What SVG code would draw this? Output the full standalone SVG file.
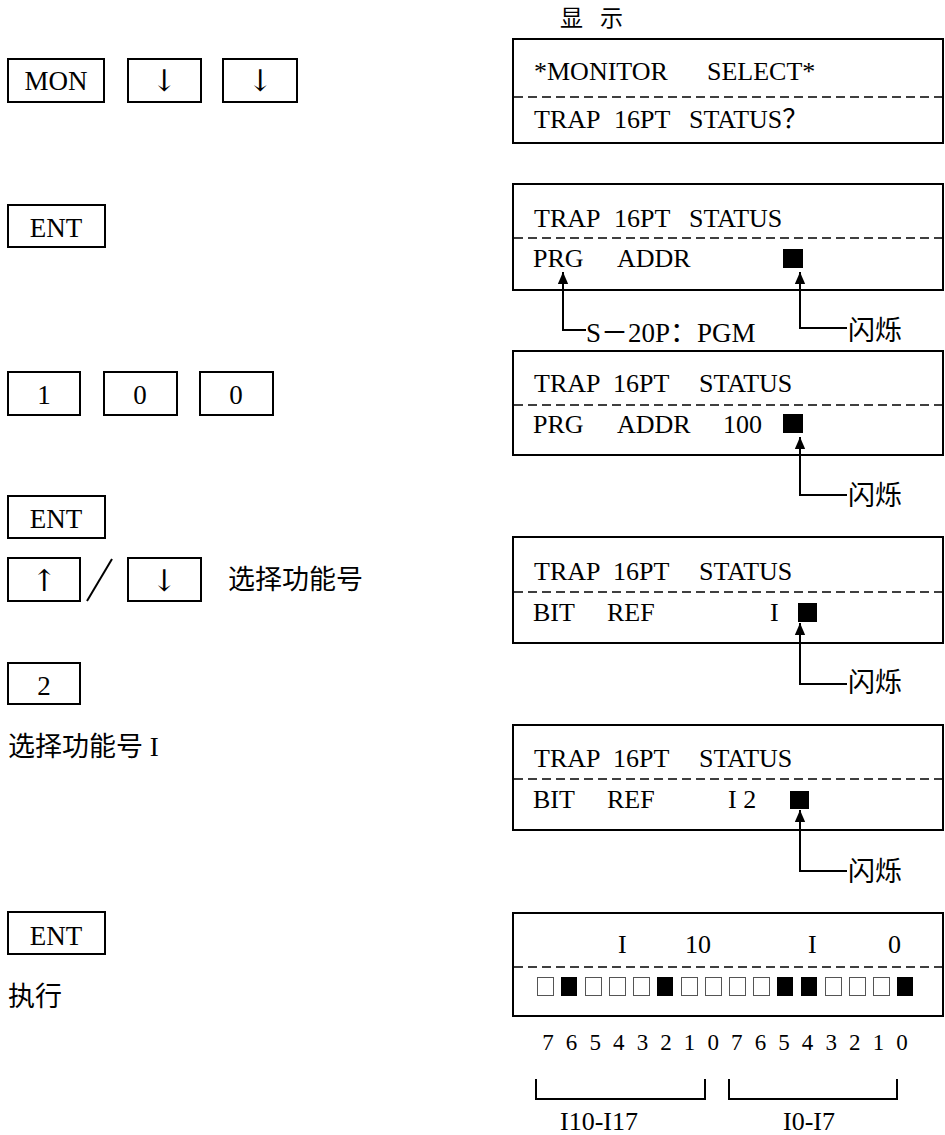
<svg xmlns="http://www.w3.org/2000/svg" width="945" height="1135" viewBox="0 0 945 1135">
<style>
.box{fill:none;stroke:#000;stroke-width:2}
.dash{stroke:#000;stroke-width:1.5;stroke-dasharray:9 5;fill:none}
.t{font-family:"Liberation Serif","Noto Sans CJK SC",serif;font-size:26px;fill:#000}
.c{font-family:"Noto Sans CJK SC",sans-serif;font-size:27px;fill:#000}
.k{font-family:"Liberation Serif","Noto Sans CJK SC",serif;font-size:27px;fill:#000;text-anchor:middle}
.ar{font-family:"DejaVu Serif","DejaVu Sans",serif;font-size:30px;fill:#000;text-anchor:middle}
.d{font-family:"Liberation Serif",serif;font-size:23px;fill:#000;text-anchor:middle}
.ln{fill:none;stroke:#000;stroke-width:2}
.off{fill:#fff;stroke:#555;stroke-width:1}
.on{fill:#000}
</style>
<defs>
<marker id="ah" markerWidth="12" markerHeight="14" refX="14" refY="6" viewBox="0 0 14 12" orient="auto" markerUnits="userSpaceOnUse">
<path d="M0,0 L14,6 L0,12 Z" fill="#000"/>
</marker>
</defs>
<rect width="945" height="1135" fill="#fff"/>
<text class="c" y="26" style="font-size:23px"><tspan x="560">显</tspan><tspan x="600">示</tspan></text>

<g id="key-mon"><rect class="box" x="8" y="59" width="96" height="43"/><text class="k" x="56" y="90">MON</text></g>
<g id="key-down1"><rect class="box" x="128" y="59" width="73" height="43"/><text class="ar" x="164" y="91">↓</text></g>
<g id="key-down2"><rect class="box" x="223" y="59" width="74" height="43"/><text class="ar" x="260" y="91">↓</text></g>

<g id="key-ent1"><rect class="box" x="8" y="205" width="97" height="42"/><text class="k" x="56" y="237">ENT</text></g>

<g id="key-1"><rect class="box" x="8" y="372" width="72" height="43"/><text class="k" x="44" y="404">1</text></g>
<g id="key-0a"><rect class="box" x="104" y="372" width="73" height="43"/><text class="k" x="140" y="404">0</text></g>
<g id="key-0b"><rect class="box" x="200" y="372" width="73" height="43"/><text class="k" x="236" y="404">0</text></g>

<g id="key-ent2"><rect class="box" x="8" y="496" width="97" height="42"/><text class="k" x="56" y="528">ENT</text></g>

<g id="key-up"><rect class="box" x="8" y="558" width="72" height="43"/><text class="ar" x="44" y="591">↑</text></g>
<line x1="87" y1="601" x2="112" y2="559" stroke="#000" stroke-width="2"/>
<g id="key-down3"><rect class="box" x="128" y="558" width="73" height="43"/><text class="ar" x="164" y="591">↓</text></g>
<text class="c" x="228" y="589">选择功能号</text>

<g id="key-2"><rect class="box" x="8" y="663" width="72" height="41"/><text class="k" x="44" y="695">2</text></g>
<text class="t" x="8" y="756" style="font-size:27px">选择功能号 I</text>

<g id="key-ent3"><rect class="box" x="8" y="912" width="97" height="42"/><text class="k" x="56" y="945">ENT</text></g>
<text class="c" x="8" y="1006">执行</text>

<g id="lcd1">
<rect class="box" x="513" y="39" width="430" height="104"/>
<line class="dash" x1="514" y1="97" x2="943" y2="97"/>
<text class="t" y="80"><tspan x="534">*MONITOR</tspan><tspan x="707">SELECT*</tspan></text>
<text class="t" y="128"><tspan x="534">TRAP</tspan><tspan x="614">16PT</tspan><tspan x="689">STATUS？</tspan></text>
</g>

<g id="lcd2">
<rect class="box" x="513" y="184" width="430" height="106"/>
<line class="dash" x1="514" y1="238" x2="943" y2="238"/>
<text class="t" y="227"><tspan x="534">TRAP</tspan><tspan x="614">16PT</tspan><tspan x="689">STATUS</tspan></text>
<text class="t" y="267"><tspan x="533">PRG</tspan><tspan x="617">ADDR</tspan></text>
<rect class="on" x="783" y="249" width="20" height="19"/>
</g>

<g id="lcd3">
<rect class="box" x="513" y="351" width="430" height="104"/>
<line class="dash" x1="514" y1="405" x2="943" y2="405"/>
<text class="t" y="392"><tspan x="534">TRAP</tspan><tspan x="613">16PT</tspan><tspan x="699">STATUS</tspan></text>
<text class="t" y="433"><tspan x="533">PRG</tspan><tspan x="617">ADDR</tspan><tspan x="723">100</tspan></text>
<rect class="on" x="783" y="414" width="20" height="19"/>
</g>

<g id="lcd4">
<rect class="box" x="513" y="537" width="430" height="106"/>
<line class="dash" x1="514" y1="592" x2="943" y2="592"/>
<text class="t" y="580"><tspan x="534">TRAP</tspan><tspan x="613">16PT</tspan><tspan x="699">STATUS</tspan></text>
<text class="t" y="621"><tspan x="533">BIT</tspan><tspan x="607">REF</tspan><tspan x="770">I</tspan></text>
<rect class="on" x="798" y="603" width="19" height="19"/>
</g>

<g id="lcd5">
<rect class="box" x="513" y="725" width="430" height="105"/>
<line class="dash" x1="514" y1="779" x2="943" y2="779"/>
<text class="t" y="767"><tspan x="534">TRAP</tspan><tspan x="613">16PT</tspan><tspan x="699">STATUS</tspan></text>
<text class="t" y="808"><tspan x="533">BIT</tspan><tspan x="607">REF</tspan><tspan x="728">I 2</tspan></text>
<rect class="on" x="790" y="791" width="19" height="18"/>
</g>

<g id="lcd6">
<rect class="box" x="513" y="913" width="430" height="103"/>
<line class="dash" x1="514" y1="967" x2="943" y2="967"/>
<text class="t" y="953"><tspan x="618">I</tspan><tspan x="685">10</tspan><tspan x="808">I</tspan><tspan x="888">0</tspan></text>
<rect class="off" x="537.5" y="977.5" width="16" height="18"/>
<rect class="on" x="561" y="977" width="16" height="19"/>
<rect class="off" x="585.5" y="977.5" width="16" height="18"/>
<rect class="off" x="609.5" y="977.5" width="16" height="18"/>
<rect class="off" x="633.5" y="977.5" width="16" height="18"/>
<rect class="on" x="657" y="977" width="16" height="19"/>
<rect class="off" x="681.5" y="977.5" width="16" height="18"/>
<rect class="off" x="705.5" y="977.5" width="16" height="18"/>
<rect class="off" x="729.5" y="977.5" width="16" height="18"/>
<rect class="off" x="753.5" y="977.5" width="16" height="18"/>
<rect class="on" x="777" y="977" width="16" height="19"/>
<rect class="on" x="801" y="977" width="16" height="19"/>
<rect class="off" x="825.5" y="977.5" width="16" height="18"/>
<rect class="off" x="849.5" y="977.5" width="16" height="18"/>
<rect class="off" x="873.5" y="977.5" width="16" height="18"/>
<rect class="on" x="897" y="977" width="16" height="19"/>
</g>

<g id="bits">
<text class="d" y="1050"><tspan x="548">7</tspan><tspan x="571.6">6</tspan><tspan x="595.2">5</tspan><tspan x="618.8">4</tspan><tspan x="642.4">3</tspan><tspan x="666">2</tspan><tspan x="689.6">1</tspan><tspan x="713.2">0</tspan><tspan x="736.8">7</tspan><tspan x="760.4">6</tspan><tspan x="784">5</tspan><tspan x="807.6">4</tspan><tspan x="831.2">3</tspan><tspan x="854.8">2</tspan><tspan x="878.4">1</tspan><tspan x="902">0</tspan></text>
</g>

<g id="connectors">
<path class="ln" d="M586,330 H563 V272" marker-end="url(#ah)"/>
<path class="ln" d="M847,328 H800 V272" marker-end="url(#ah)"/>
<path class="ln" d="M847,495 H800 V437" marker-end="url(#ah)"/>
<path class="ln" d="M847,684 H800 V623" marker-end="url(#ah)"/>
<path class="ln" d="M847,871 H800 V810" marker-end="url(#ah)"/>
<path class="ln" d="M536,1079 V1099 H705 V1079"/>
<path class="ln" d="M729,1079 V1099 H897 V1079"/>
</g>

<text class="t" x="586" y="342" style="font-size:27px">S－20P：PGM</text>
<text class="c" x="848" y="340">闪烁</text>
<text class="c" x="848" y="505">闪烁</text>
<text class="c" x="848" y="692">闪烁</text>
<text class="c" x="848" y="881">闪烁</text>

<text class="t" x="560" y="1130">I10-I17</text>
<text class="t" x="783" y="1130">I0-I7</text>
</svg>
